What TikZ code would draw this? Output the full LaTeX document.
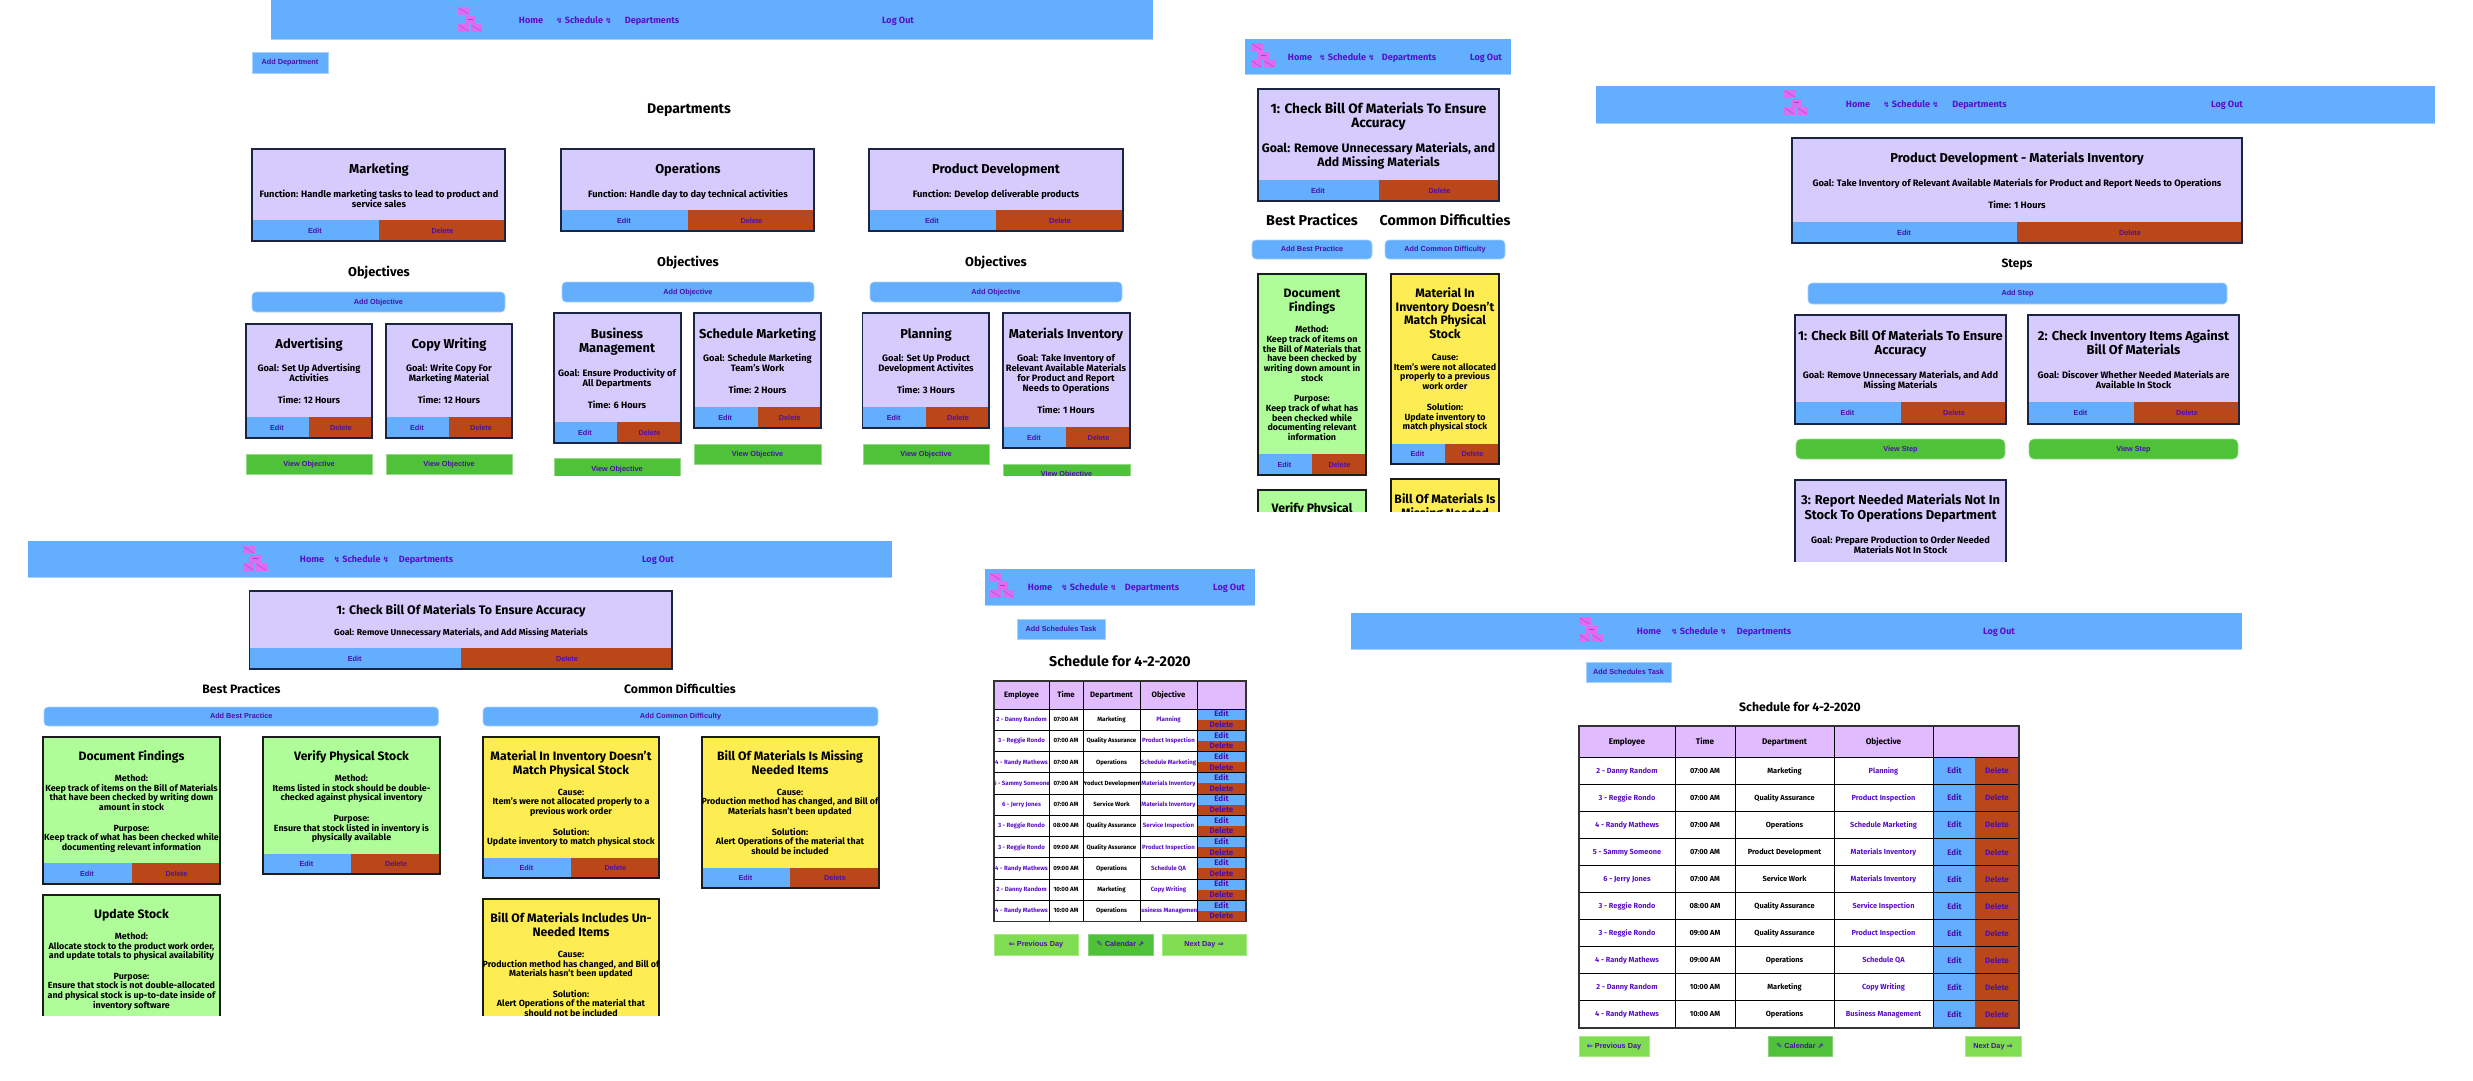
\documentclass[tikz,border=0pt]{standalone}
\usepackage{fontspec}
\setmainfont{Fira Sans}
\newfontfamily\btnf{Liberation Sans}
\newfontfamily\symf{DejaVu Sans}
\definecolor{cblue}{HTML}{63AEFD}
\definecolor{cblueL}{HTML}{A9D1FC}
\definecolor{crust}{HTML}{BA471A}
\definecolor{clav}{HTML}{D6CBFD}
\definecolor{cgreen}{HTML}{AEFD99}
\definecolor{cyellow}{HTML}{FDEC52}
\definecolor{cgbtn}{HTML}{4FC23A}
\definecolor{clgbtn}{HTML}{80DD52}
\definecolor{chead}{HTML}{E0BBFD}
\definecolor{cnavy}{HTML}{1B2542}
\definecolor{cdark}{HTML}{1C1C1C}
\definecolor{clink}{HTML}{5A10C8}
\definecolor{cbtxt}{HTML}{4A10A8}
\definecolor{clogo}{HTML}{DE6CF0}
\definecolor{clogoD}{HTML}{A63DC4}
\newcounter{tn}
% [colour]{font}{size}{x}{y}{text}
\newcommand\tx[6][black]{\stepcounter{tn}\node[anchor=base,inner sep=0pt,text=#1,font=#2\fontsize{#3}{#3}\selectfont] (t\arabic{tn}) at (#4,{#5+0.33*#3}) {#6};}
\def\ttlsz{12.9}\def\bdsz{9.3}\def\btnsz{7.3}
\newcommand\ttl[3]{\tx{\bfseries}{\ttlsz}{#1}{#2}{#3}}
\newcommand\bd[3]{\tx{\bfseries}{\bdsz}{#1}{#2}{#3}}
\newcommand\head[4][14]{\tx{\bfseries}{#1}{#2}{#3}{#4}}
% [options]{x1}{y1}{x2}{y2}{text}
\newcommand\btn[6][fill=cblue]{\path[draw=cblueL,line width=.6pt,#1] (#2,#3) rectangle (#4,#5);
 \tx[cbtxt]{\btnf\bfseries}{\btnsz}{{(#2+#4)/2}}{(#3+#5)/2}{#6}}
% [border]{x1}{y1}{x2}{y2}{fill}{button top}{split}
\newcommand\card[8][cnavy]{\fill[#6] (#2,#3) rectangle (#4,#5);
 \fill[cblue] (#2,#7) rectangle (#8,#5);
 \fill[crust] (#8,#7) rectangle (#4,#5);
 \draw[#1,line width=1.6pt] ({#2+.8},{#3+.8}) rectangle ({#4-.8},{#5-.8});
 \tx[cbtxt]{\btnf\bfseries}{\btnsz}{{(#2+#8)/2}}{(#7+#5)/2}{Edit}
 \tx[cbtxt]{\btnf\bfseries}{\btnsz}{{(#8+#4)/2}}{(#7+#5)/2}{Delete}}
\newcommand\logo[2]{\begin{scope}[shift={(#1,#2)}]
 \foreach \a/\b/\c/\d in {0/0/11.5/8,6.5/8.7/18/16.5,0/17.3/11/25,12.5/17.3/24/25}{
  \fill[clogo] (\a,\b) rectangle (\c,\d);}
 \foreach \a/\b/\c/\d in {1/1/10.5/7,1/18/10/24,13.5/18/23/24}{
  \draw[clogoD,line width=.35pt] (\a,\b) -- (\c,\d);}
 \draw[clogoD,line width=.35pt] (10,12.6) -- (14.5,12.6);
 \end{scope}}
\newcommand\navbar[4]{\fill[cblue] (#1,#2) rectangle (#3,#4);
 \draw[cblueL,line width=.8pt] (#1,#4) -- (#3,#4);}
\def\navsz{9.1}
\newcommand\navtext[5]{\tx[clink]{\bfseries}{\navsz}{#2}{#1}{Home}
 \tx[clink]{\bfseries}{\navsz}{#3}{#1}{{\symf\fontsize{7.5}{7.5}\selectfont ↯} Schedule {\symf\fontsize{7.5}{7.5}\selectfont ↯}}
 \tx[clink]{\bfseries}{\navsz}{#4}{#1}{Departments}
 \tx[clink]{\bfseries}{\navsz}{#5}{#1}{Log Out}}
\newcommand\cell[7]{\begin{scope}\clip (#1,#3) rectangle (#2,#4);
 \tx[#5]{\bfseries}{#6}{{(#1+#2)/2}}{(#3+#4)/2}{#7}\end{scope}}
\def\rows{0/2 - Danny Random/07:00 AM/Marketing/Planning,
1/3 - Reggie Rondo/07:00 AM/Quality Assurance/Product Inspection,
2/4 - Randy Mathews/07:00 AM/Operations/Schedule Marketing,
3/5 - Sammy Someone/07:00 AM/Product Development/Materials Inventory,
4/6 - Jerry Jones/07:00 AM/Service Work/Materials Inventory,
5/3 - Reggie Rondo/08:00 AM/Quality Assurance/Service Inspection,
6/3 - Reggie Rondo/09:00 AM/Quality Assurance/Product Inspection,
7/4 - Randy Mathews/09:00 AM/Operations/Schedule QA,
8/2 - Danny Random/10:00 AM/Marketing/Copy Writing,
9/4 - Randy Mathews/10:00 AM/Operations/Business Management}
% table: expects \Xa..\Xf,\Yt,\Yh,\Rh,\hsz,\csz
\newcommand\tablebody{
 \fill[chead] (\Xa,\Yt) rectangle (\Xf,\Yh);
 \foreach \ri/\re/\rt/\rd/\ro in \rows {
  \pgfmathsetmacro\ya{\Yh+\ri*\Rh}\pgfmathsetmacro\yb{\ya+\Rh}
  \cell{\Xa}{\Xb}{\ya}{\yb}{clink}{\csz}{\re}
  \cell{\Xb}{\Xc}{\ya}{\yb}{black}{\csz}{\rt}
  \cell{\Xc}{\Xd}{\ya}{\yb}{black}{\csz}{\rd}
  \cell{\Xd}{\Xe}{\ya}{\yb}{clink}{\csz}{\ro}
 }
 \cell{\Xa}{\Xb}{\Yt}{\Yh}{black}{\hsz}{Employee}
 \cell{\Xb}{\Xc}{\Yt}{\Yh}{black}{\hsz}{Time}
 \cell{\Xc}{\Xd}{\Yt}{\Yh}{black}{\hsz}{Department}
 \cell{\Xd}{\Xe}{\Yt}{\Yh}{black}{\hsz}{Objective}
}
\newcommand\tablegrid{
 \pgfmathsetmacro\Yb{\Yh+10*\Rh}
 \foreach \k in {0,...,9}{\pgfmathsetmacro\ya{\Yh+\k*\Rh}
  \draw[black,line width=.9pt] (\Xa,\ya) -- (\Xf,\ya);}
 \foreach \k in {\Xb,\Xc,\Xd,\Xe}{\draw[black,line width=.9pt] (\k,\Yt) -- (\k,\Yb);}
 \draw[black!80,line width=1.2pt] (\Xa,\Yt) rectangle (\Xf,\Yb);
}
\begin{document}
\begin{tikzpicture}[x=1pt,y=-1pt]
\useasboundingbox (0,0) rectangle (2473,1080);
\fill[white] (0,0) rectangle (2473,1080);
% ---------- panel 1: departments
\begin{scope}
\clip (240,0) rectangle (1153,475);
\navbar{271}{0}{1153}{39}
\logo{458}{7}
\navtext{20}{531}{584}{652}{898}
\btn{252}{52}{328}{73}{Add Department}
\head{689}{109}{Departments}
\card{251}{148}{506}{242}{clav}{220}{379}
\ttl{379}{169}{Marketing}
\bd{379}{194}{Function: Handle marketing tasks to lead to product and}
\bd{379}{204}{service sales}
\card{560}{148}{815}{232}{clav}{210}{688}
\ttl{688}{169}{Operations}
\bd{688}{194}{Function: Handle day to day technical activities}
\card{868}{148}{1124}{232}{clav}{210}{996}
\ttl{996}{169}{Product Development}
\bd{996}{194}{Function: Develop deliverable products}
\head[12.8]{379}{272}{Objectives}
\head[12.8]{688}{262}{Objectives}
\head[12.8]{996}{262}{Objectives}
\btn[fill=cblue,rounded corners=4pt]{252}{292}{505}{312}{Add Objective}
\btn[fill=cblue,rounded corners=4pt]{562}{282}{814}{302}{Add Objective}
\btn[fill=cblue,rounded corners=4pt]{870}{282}{1122}{302}{Add Objective}
\card{245}{323}{373}{439}{clav}{417}{309}
\ttl{309}{344}{Advertising}
\bd{309}{368}{Goal: Set Up Advertising}
\bd{309}{378}{Activities}
\bd{309}{400}{Time: 12 Hours}
\card{385}{323}{513}{439}{clav}{417}{449}
\ttl{449}{344}{Copy Writing}
\bd{449}{368}{Goal: Write Copy For}
\bd{449}{378}{Marketing Material}
\bd{449}{400}{Time: 12 Hours}
\btn[fill=cgbtn,draw=cgbtn!60!white]{246}{454}{372}{474}{View Objective}
\btn[fill=cgbtn,draw=cgbtn!60!white]{386}{454}{512}{474}{View Objective}
\card{553}{312}{682}{444}{clav}{422}{617}
\ttl{617}{334}{Business}
\ttl{617}{348}{Management}
\bd{617}{373}{Goal: Ensure Productivity of}
\bd{617}{383}{All Departments}
\bd{617}{405}{Time: 6 Hours}
\btn[fill=cgbtn,draw=cgbtn!60!white]{554}{458}{680}{480}{View Objective}
\card{693}{312}{822}{429}{clav}{407}{757.5}
\ttl{757.5}{334}{Schedule Marketing}
\bd{757.5}{358}{Goal: Schedule Marketing}
\bd{757.5}{368}{Team's Work}
\bd{757.5}{390}{Time: 2 Hours}
\btn[fill=cgbtn,draw=cgbtn!60!white]{694}{444}{821}{464}{View Objective}
\card{861.5}{312}{990}{429}{clav}{407}{926}
\ttl{926}{334}{Planning}
\bd{926}{358}{Goal: Set Up Product}
\bd{926}{368}{Development Activites}
\bd{926}{390}{Time: 3 Hours}
\btn[fill=cgbtn,draw=cgbtn!60!white]{863}{444}{989}{464}{View Objective}
\card{1002}{312}{1131}{449}{clav}{427}{1066}
\ttl{1066}{334}{Materials Inventory}
\bd{1066}{358}{Goal: Take Inventory of}
\bd{1066}{368}{Relevant Available Materials}
\bd{1066}{378}{for Product and Report}
\bd{1066}{388}{Needs to Operations}
\bd{1066}{410}{Time: 1 Hours}
\btn[fill=cgbtn,draw=cgbtn!60!white]{1003}{464}{1130}{484}{View Objective}
\end{scope}
% ---------- panel 2: objective
\begin{scope}
\clip (1596,86) rectangle (2435,561);
\navbar{1596}{86}{2435}{123}
\logo{1784}{90}
\navtext{104}{1858}{1911}{1979.5}{2227}
\card{1791}{137}{2243}{244}{clav}{222}{2017}
\ttl{2017}{158}{Product Development - Materials Inventory}
\bd{2017}{183}{Goal: Take Inventory of Relevant Available Materials for Product and Report Needs to Operations}
\bd{2017}{205}{Time: 1 Hours}
\head[12]{2017}{264}{Steps}
\btn[fill=cblue,rounded corners=4pt]{1808}{283}{2227}{304}{Add Step}
\card{1794}{314}{2007}{425}{clav}{402}{1901}
\ttl{1900.5}{336}{1: Check Bill Of Materials To Ensure}
\ttl{1900.5}{350}{Accuracy}
\bd{1900.5}{375}{Goal: Remove Unnecessary Materials, and Add}
\bd{1900.5}{385}{Missing Materials}
\card{2027}{314}{2240}{425}{clav}{402}{2134}
\ttl{2133.5}{336}{2: Check Inventory Items Against}
\ttl{2133.5}{350}{Bill Of Materials}
\bd{2133.5}{375}{Goal: Discover Whether Needed Materials are}
\bd{2133.5}{385}{Available In Stock}
\btn[fill=cgbtn,draw=cgbtn!60!white,rounded corners=5pt]{1796}{439}{2005}{459}{View Step}
\btn[fill=cgbtn,draw=cgbtn!60!white,rounded corners=5pt]{2029}{439}{2238}{459}{View Step}
\card{1794}{479}{2007}{600}{clav}{590}{1901}
\ttl{1900.5}{500}{3: Report Needed Materials Not In}
\ttl{1900.5}{515}{Stock To Operations Department}
\bd{1900.5}{540}{Goal: Prepare Production to Order Needed}
\bd{1900.5}{550}{Materials Not In Stock}
\end{scope}
% ---------- panel 3: narrow step
\begin{scope}
\clip (1245,39) rectangle (1511,511);
\def\ttlsz{12.2}\def\bdsz{8.9}
\navbar{1245}{39}{1511}{74}
\logo{1251}{43}
\navtext{57}{1300}{1347}{1409}{1486}
\begingroup\def\bdsz{12.3}
\card{1257}{88}{1500}{202}{clav}{180}{1379}
\tx{\bfseries}{13.6}{1378.5}{109}{1: Check Bill Of Materials To Ensure}
\tx{\bfseries}{13.6}{1378.5}{123}{Accuracy}
\bd{1378.5}{148}{Goal: Remove Unnecessary Materials, and}
\bd{1378.5}{162}{Add Missing Materials}
\endgroup
\head[14.3]{1312}{221}{Best Practices}
\head[14.3]{1445}{221}{Common Difficulties}
\btn[fill=cblue,rounded corners=4pt]{1252}{240}{1372}{259}{Add Best Practice}
\btn[fill=cblue,rounded corners=4pt]{1385}{240}{1505}{259}{Add Common Difficulty}
\card[cdark]{1257}{273}{1367}{476}{cgreen}{454}{1312}
\ttl{1312}{293}{Document}
\ttl{1312}{307}{Findings}
\bd{1312}{330}{Method:}
\bd{1312}{340}{Keep track of items on}
\bd{1312}{350}{the Bill of Materials that}
\bd{1312}{359}{have been checked by}
\bd{1312}{369}{writing down amount in}
\bd{1312}{379}{stock}
\bd{1312}{399}{Purpose:}
\bd{1312}{409}{Keep track of what has}
\bd{1312}{419}{been checked while}
\bd{1312}{428}{documenting relevant}
\bd{1312}{438}{information}
\card[cdark]{1390}{273}{1500}{465}{cyellow}{444}{1445}
\ttl{1445}{293}{Material In}
\ttl{1445}{307}{Inventory Doesn't}
\ttl{1445}{320}{Match Physical}
\ttl{1445}{334}{Stock}
\bd{1445}{358}{Cause:}
\bd{1445}{368}{Item's were not allocated}
\bd{1445}{377}{properly to a previous}
\bd{1445}{387}{work order}
\bd{1445}{408}{Solution:}
\bd{1445}{418}{Update inventory to}
\bd{1445}{427}{match physical stock}
\card[cdark]{1257}{489}{1367}{560}{cgreen}{550}{1312}
\ttl{1312}{508}{Verify Physical}
\card[cdark]{1390}{478}{1500}{560}{cyellow}{550}{1445}
\ttl{1445}{499}{Bill Of Materials Is}
\ttl{1445}{513}{Missing Needed}
\end{scope}
% ---------- panel 4: step detail
\begin{scope}
\clip (28,541) rectangle (892,1015);
\def\ttlsz{12.2}\def\bdsz{8.9}
\navbar{28}{541}{892}{577}
\logo{243}{546}
\navtext{559}{312}{361.5}{426}{658}
\card{248.5}{590}{673}{670}{clav}{648}{461}
\tx{\bfseries}{12.4}{461}{610}{1: Check Bill Of Materials To Ensure Accuracy}
\tx{\bfseries}{8.7}{461}{633}{Goal: Remove Unnecessary Materials, and Add Missing Materials}
\head[12.2]{241.5}{689}{Best Practices}
\head[12.2]{680}{689}{Common Difficulties}
\btn[fill=cblue,rounded corners=4pt]{44}{707}{438.5}{726}{Add Best Practice}
\btn[fill=cblue,rounded corners=4pt]{483}{707}{878}{726}{Add Common Difficulty}
\card[cdark]{42}{736}{221}{885}{cgreen}{863}{132}
\ttl{131.5}{756}{Document Findings}
\bd{131.5}{779}{Method:}
\bd{131.5}{788.5}{Keep track of items on the Bill of Materials}
\bd{131.5}{798}{that have been checked by writing down}
\bd{131.5}{808}{amount in stock}
\bd{131.5}{829}{Purpose:}
\bd{131.5}{838}{Keep track of what has been checked while}
\bd{131.5}{848}{documenting relevant information}
\card[cdark]{262}{736}{441}{875}{cgreen}{854}{351}
\ttl{351.5}{756}{Verify Physical Stock}
\bd{351.5}{779}{Method:}
\bd{351.5}{788.5}{Items listed in stock should be double-}
\bd{351.5}{798}{checked against physical inventory}
\bd{351.5}{819}{Purpose:}
\bd{351.5}{829}{Ensure that stock listed in inventory is}
\bd{351.5}{838}{physically available}
\card[cdark]{42}{894}{221}{1040}{cgreen}{1030}{132}
\ttl{131.5}{914}{Update Stock}
\bd{131.5}{937}{Method:}
\bd{131.5}{947}{Allocate stock to the product work order,}
\bd{131.5}{956}{and update totals to physical availability}
\bd{131.5}{977}{Purpose:}
\bd{131.5}{986}{Ensure that stock is not double-allocated}
\bd{131.5}{996}{and physical stock is up-to-date inside of}
\bd{131.5}{1006}{inventory software}
\card[cdark]{482}{736}{660}{879}{cyellow}{858}{571}
\ttl{571}{756}{Material In Inventory Doesn't}
\ttl{571}{770}{Match Physical Stock}
\bd{571}{793}{Cause:}
\bd{571}{802}{Item's were not allocated properly to a}
\bd{571}{812}{previous work order}
\bd{571}{833}{Solution:}
\bd{571}{842}{Update inventory to match physical stock}
\card[cdark]{701}{736}{880}{889}{cyellow}{868}{790}
\ttl{790}{756}{Bill Of Materials Is Missing}
\ttl{790}{770}{Needed Items}
\bd{790}{793}{Cause:}
\bd{790}{802}{Production method has changed, and Bill of}
\bd{790}{812}{Materials hasn't been updated}
\bd{790}{833}{Solution:}
\bd{790}{842}{Alert Operations of the material that}
\bd{790}{852}{should be included}
\card[cdark]{482}{898}{660}{1040}{cyellow}{1030}{571}
\ttl{571}{918}{Bill Of Materials Includes Un-}
\ttl{571}{932}{Needed Items}
\bd{571}{955}{Cause:}
\bd{571}{965}{Production method has changed, and Bill of}
\bd{571}{974}{Materials hasn't been updated}
\bd{571}{995}{Solution:}
\bd{571}{1004}{Alert Operations of the material that}
\bd{571}{1013.5}{should not be included}
\end{scope}
% ---------- panel 5: narrow schedule
\navbar{985}{569}{1255}{605}
\logo{990}{573}
\navtext{587}{1040}{1089}{1152}{1229}
\btn{1017}{619}{1105}{639}{Add Schedules Task}
\head[14.2]{1120}{662}{Schedule for 4-2-2020}
\def\Xa{994}\def\Xb{1049}\def\Xc{1083}\def\Xd{1140}\def\Xe{1197}\def\Xf{1246}
\def\Yt{681}\def\Yh{709}\def\Rh{21.25}\def\hsz{7.8}\def\csz{6.1}
\tablebody
\foreach \k in {0,...,9}{\pgfmathsetmacro\ya{\Yh+\k*\Rh}\pgfmathsetmacro\ym{\ya+\Rh/2}\pgfmathsetmacro\yb{\ya+\Rh}
 \fill[cblue] (\Xe,\ya) rectangle (\Xf,\ym);
 \fill[crust] (\Xe,\ym) rectangle (\Xf,\yb);
 \tx[cbtxt]{\bfseries}{8}{1221.5}{\ya+5.2}{Edit}
 \tx[cbtxt]{\bfseries}{8}{1221.5}{\ya+16}{Delete}}
\tablegrid
\btn[fill=clgbtn,draw=clgbtn!70!white]{994}{934}{1078}{955}{{\symf ⇐} Previous Day}
\btn[fill=cgbtn,draw=cgbtn!70!white]{1088}{934}{1153}{955}{{\symf ✎} Calendar {\symf ⇗}}
\btn[fill=clgbtn,draw=clgbtn!70!white]{1162}{934}{1246}{955}{Next Day {\symf ⇒}}
% ---------- panel 6: wide schedule
\navbar{1351}{613}{2242}{649}
\logo{1579}{617}
\navtext{631}{1649}{1699}{1764}{1999}
\btn{1586}{662}{1671}{682}{Add Schedules Task}
\head[12.2]{1800}{707}{Schedule for 4-2-2020}
\def\Xa{1579}\def\Xb{1675}\def\Xc{1735}\def\Xd{1834}\def\Xe{1933}\def\Xf{2019}
\def\Yt{726}\def\Yh{757}\def\Rh{27.1}\def\hsz{8.2}\def\csz{7.4}
\tablebody
\foreach \k in {0,...,9}{\pgfmathsetmacro\ya{\Yh+\k*\Rh}\pgfmathsetmacro\ym{\ya+\Rh/2}\pgfmathsetmacro\yb{\ya+\Rh}
 \fill[cblue] (\Xe,\ya) rectangle (1975,\yb);
 \fill[crust] (1975,\ya) rectangle (\Xf,\yb);
 \tx[cbtxt]{\bfseries}{8}{1954.5}{\ym+.5}{Edit}
 \tx[cbtxt]{\bfseries}{8}{1997}{\ym+.5}{Delete}}
\tablegrid
\btn[fill=clgbtn,draw=clgbtn!70!white]{1579}{1036}{1649}{1056}{{\symf ⇐} Previous Day}
\btn[fill=cgbtn,draw=cgbtn!70!white]{1768}{1036}{1832}{1056}{{\symf ✎} Calendar {\symf ⇗}}
\btn[fill=clgbtn,draw=clgbtn!70!white]{1965}{1036}{2021}{1056}{Next Day {\symf ⇒}}
\end{tikzpicture}
\end{document}
